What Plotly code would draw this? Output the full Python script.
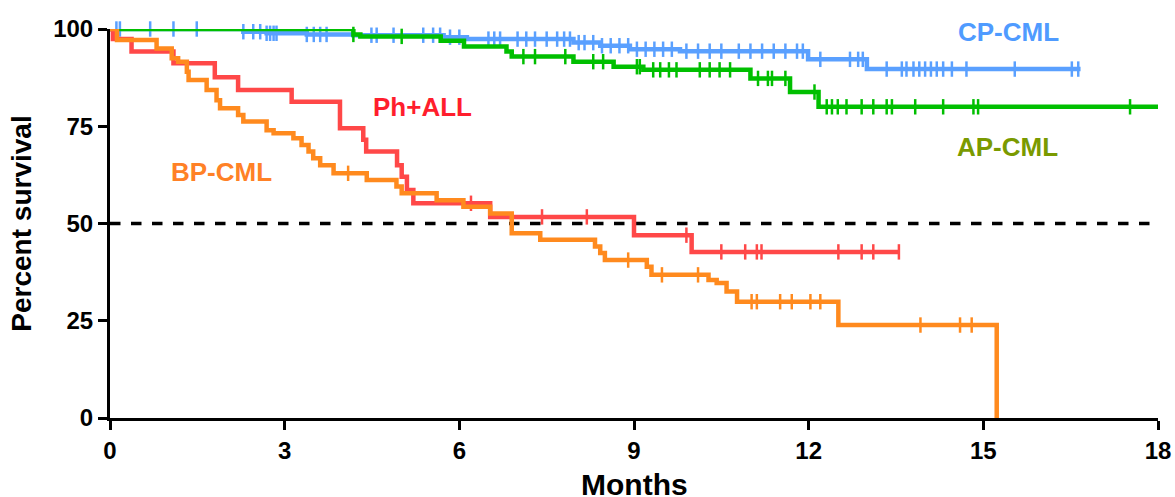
import plotly.graph_objects as go

# ---------------- data ----------------
cp_t = [0, 2.29, 2.69, 3.38, 4.18, 5.73, 6.13, 7.96, 8.42, 8.93, 9.79, 11.99, 13.0, 16.67]
cp_s = [100, 99.3, 98.9, 98.6, 98.4, 97.9, 97.4, 96.5, 95.7, 94.8, 94.3, 92.2, 89.7, 89.7]
cp_c = [0.11, 0.17, 0.69, 1.09, 1.49, 2.29, 2.46, 2.58, 2.69, 2.75, 2.81, 2.86, 3.38, 3.5,
        3.61, 3.72, 4.49, 4.58, 4.87, 5.38, 5.55, 5.67, 5.84, 6.0, 6.5, 6.6, 6.7, 7.0,
        7.15, 7.3, 7.5, 7.68, 7.8, 7.9, 8.05, 8.15, 8.3, 8.45, 8.6, 8.75, 8.9, 9.05,
        9.2, 9.35, 9.5, 9.65, 9.9, 10.1, 10.3, 10.5, 10.8, 11.0, 11.2, 11.4, 11.6,
        11.8, 11.9, 12.2, 12.71, 12.85, 12.93, 13.34, 13.6, 13.68, 13.8, 13.9, 14.0,
        14.1, 14.2, 14.31, 14.46, 14.71, 15.54, 16.52, 16.63]

ap_t = [0, 4.18, 4.3, 5.68, 6.08, 6.81, 6.9, 7.96, 8.65, 9.16, 11.0, 11.68, 12.17, 18.0]
ap_s = [100, 98.6, 98.1, 97.0, 95.5, 94.2, 92.9, 91.6, 90.3, 89.5, 87.3, 83.8, 80.0, 80.0]
ap_c = [4.18, 5.01, 7.1, 7.3, 7.82, 8.3, 8.47, 9.05, 9.1, 9.33, 9.45, 9.6, 9.73, 10.13,
        10.3, 10.47, 10.65, 11.13, 11.3, 11.37, 11.6, 12.1, 12.31, 12.4, 12.5, 12.65,
        12.91, 13.11, 13.34, 13.43, 13.83, 14.31, 14.83, 14.91, 17.52]

ph_t = [0, 0.05, 0.37, 1.09, 1.80, 2.20, 3.12, 3.95, 4.35, 4.40, 4.93, 5.01, 5.10, 5.21,
        6.53, 9.0, 9.99, 13.55]
ph_s = [100, 97.4, 94.2, 91.2, 87.6, 84.3, 81.3, 74.5, 71.5, 68.5, 65.0, 62.0, 58.6, 55.2,
        51.7, 47.0, 42.7, 42.7]
ph_c = [6.2, 7.42, 8.19, 9.9, 10.5, 10.91, 11.11, 11.19, 12.51, 12.91, 13.11, 13.55]

bp_t = [0, 0.12, 0.80, 1.06, 1.17, 1.32, 1.35, 1.66, 1.83, 1.89, 2.20, 2.29, 2.69, 2.81,
        3.15, 3.29, 3.41, 3.49, 3.61, 3.84, 4.41, 4.92, 5.01, 5.61, 6.07, 6.53, 6.9, 7.39,
        8.33, 8.42, 8.5, 9.22, 9.3, 10.28, 10.42, 10.59, 10.77, 12.51, 15.23, 15.23]
bp_s = [100, 97.2, 95.0, 92.5, 91.6, 89.0, 86.9, 84.3, 81.7, 79.6, 77.9, 76.2, 74.0, 73.2,
        71.9, 70.2, 68.5, 66.8, 65.0, 62.9, 61.2, 59.5, 57.8, 56.0, 54.3, 52.6, 47.5, 45.8,
        44.1, 42.4, 40.6, 38.9, 36.8, 35.5, 34.7, 32.5, 29.9, 23.9, 23.9, 0]
bp_c = [4.09, 8.9, 9.48, 10.1, 11.02, 11.11, 11.51, 11.71, 12.03, 12.2, 13.92, 14.6, 14.8]

x_ticks = [0, 3, 6, 9, 12, 15, 18]
y_ticks = [0, 25, 50, 75, 100]
median_line = 50

series = [
    ("CP-CML", cp_t, cp_s, cp_c, "#5aa0ff", "#4f9bff", 15.44, 99.3),
    ("AP-CML", ap_t, ap_s, ap_c, "#00bf00", "#7a9a00", 15.42, 69.6),
    ("Ph+ALL", ph_t, ph_s, ph_c, "#ff4848", "#ff1e2d", 5.36, 79.9),
    ("BP-CML", bp_t, bp_s, bp_c, "#ff8a1e", "#ff8126", 1.91, 63.3),
]


def step_value(t, s, x):
    v = s[0]
    for ti, si in zip(t, s):
        if ti <= x:
            v = si
        else:
            break
    return v


fig = go.Figure()

# median line
fig.add_trace(go.Scatter(x=[x_ticks[0], x_ticks[-1]], y=[median_line, median_line],
                         mode="lines", line=dict(color="black", width=3.5, dash="dash"),
                         hoverinfo="skip", showlegend=False, cliponaxis=False))

for name, t, s, c, col, lab_col, lx, ly in series:
    fig.add_trace(go.Scatter(x=t, y=s, mode="lines", line=dict(color=col, width=4.5, shape="hv"),
                             name=name, showlegend=False, cliponaxis=False))
    fig.add_trace(go.Scatter(x=c, y=[step_value(t, s, v) for v in c], mode="markers",
                             marker=dict(symbol="line-ns", size=11,
                                         line=dict(color=col, width=2.5)),
                             showlegend=False, hoverinfo="skip", cliponaxis=False))
    fig.add_annotation(x=lx, y=ly, text=name, showarrow=False,
                       font=dict(family="Arial, Liberation Sans", size=26, color=lab_col,
                                 weight="bold"))

# x-axis title placed as a paper annotation for exact vertical position
fig.add_annotation(x=0.5, y=-0.171, xref="paper", yref="paper", text="Months",
                   showarrow=False, yanchor="middle",
                   font=dict(family="Arial, Liberation Sans", size=30, color="black",
                             weight="bold"))

axis_common = dict(showline=True, linecolor="black", linewidth=3, ticks="outside",
                   ticklen=9, tickwidth=3, tickcolor="black", showgrid=False, zeroline=False,
                   tickfont=dict(family="Arial, Liberation Sans", size=24, color="black",
                                 weight="bold"))

fig.update_xaxes(range=[0, 18], tickvals=x_ticks, ticktext=[str(v) for v in x_ticks],
                 automargin=False, **axis_common)
fig.update_yaxes(range=[0, 100], tickvals=y_ticks, ticktext=[str(v) for v in y_ticks],
                 title=dict(text="Percent survival", standoff=14,
                            font=dict(family="Arial, Liberation Sans", size=28, color="black",
                                      weight="bold")),
                 automargin=False, **axis_common)

fig.update_layout(width=1175, height=497, margin=dict(l=110, r=17, t=29, b=79),
                  plot_bgcolor="white", paper_bgcolor="white")

# remove the default page margin so the figure fills the 1175x497 window exactly
fig.write_html("out.html", config={"displayModeBar": False},
               post_script="document.body.style.margin='0';document.body.style.overflow='hidden';")
